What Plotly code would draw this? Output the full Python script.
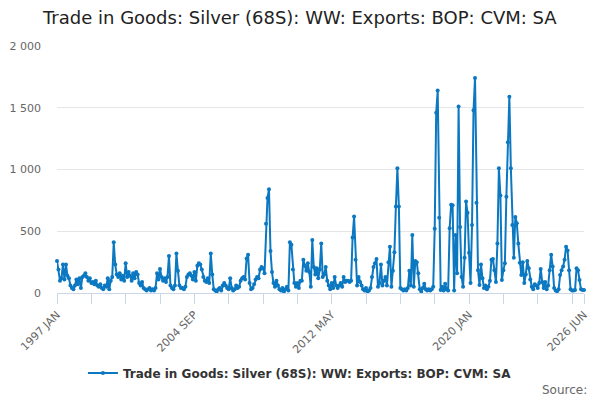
import plotly.graph_objects as go

# monthly values, 1997 JAN .. 2026 JUN
y1997_2001 = [
    260, 190, 100, 120, 230, 110, 230, 140, 120, 60, 40, 30,
    60, 110, 70, 120, 40, 130, 140, 160, 130, 100, 120, 80,
    90, 70, 100, 60, 50, 70, 40, 30, 60, 50, 120, 30,
    100, 130, 410, 230, 150, 130, 160, 110, 140, 100, 240, 130,
    170, 140, 100, 160, 120, 170, 150, 80, 60, 90, 40, 30,
]
y2002_2006 = [
    20, 30, 40, 20, 30, 20, 40, 160, 110, 195, 130, 100,
    120, 90, 130, 300, 60, 40, 30, 60, 320, 180, 60, 40,
    40, 30, 50, 130, 150, 160, 140, 110, 170, 100, 220, 240,
    230, 190, 130, 100, 90, 120, 80, 320, 150, 30, 20, 10,
    30, 40, 20, 60, 80, 60, 40, 30, 120, 40, 20, 30,
]
y2007_2011 = [
    60, 40, 50, 100, 120, 130, 110, 280, 310, 80, 30, 40,
    70, 110, 130, 120, 190, 210, 200, 160, 560, 770, 840, 340,
    170, 80, 50, 100, 60, 30, 20, 40, 10, 30, 50, 20,
    410, 390, 190, 80, 50, 80, 40, 100, 100, 270, 220, 180,
    240, 170, 50, 430, 210, 150, 200, 120, 190, 400, 130, 150,
]
y2012_2016 = [
    210, 100, 60, 30, 80, 40, 130, 60, 40, 60, 80, 50,
    130, 90, 100, 100, 90, 100, 450, 620, 270, 60, 130, 90,
    60, 30, 20, 40, 10, 20, 40, 130, 210, 240, 275, 50,
    80, 230, 60, 100, 130, 60, 250, 375, 50, 180, 330, 700,
    1010, 700, 40, 30, 20, 30, 20, 40, 180, 60, 470, 50,
]
y2017_2021 = [
    260, 250, 160, 30, 10, 40, 75, 30, 20, 30, 20, 30,
    50, 520, 1460, 1640, 610, 25, 50, 20, 75, 30, 20, 525,
    715, 710, 20, 470, 160, 1510, 535, 130, 50, 285, 740, 650,
    325, 80, 550, 1480, 1740, 730, 185, 65, 230, 120, 40, 60,
    30, 50, 100, 270, 275, 185, 90, 400, 1010, 790, 105, 185,
]
y2022_2026 = [
    240, 780, 1220, 1590, 1010, 550, 285, 615, 565, 400, 245, 145,
    250, 80, 150, 260, 200, 110, 50, 30, 70, 60, 40, 80,
    195, 90, 40, 90, 30, 60, 185, 310, 215, 40, 20, 15,
    30, 145, 185, 215, 270, 375, 345, 185, 30, 20, 20, 25,
    200, 185, 105, 30, 25, 25,
]

month_names = ["JAN", "FEB", "MAR", "APR", "MAY", "JUN",
               "JUL", "AUG", "SEP", "OCT", "NOV", "DEC"]
months = [f"{y} {m}" for y in range(1997, 2027) for m in month_names][:354]

values = y1997_2001 + y2002_2006 + y2007_2011 + y2012_2016 + y2017_2021 + y2022_2026

labelled = ["1997 JAN", "2004 SEP", "2012 MAY", "2020 JAN", "2026 JUN"]
tick_cats = months[::23] + [months[-1]]
tick_text = [m if m in labelled else "" for m in tick_cats]

name = "Trade in Goods: Silver (68S): WW: Exports: BOP: CVM: SA"
font = "DejaVu Sans"

fig = go.Figure()
fig.add_trace(go.Scatter(
    x=months, y=values, name=name, mode="lines+markers",
    line=dict(color="#0b78c1", width=2),
    marker=dict(color="#0b78c1", size=4),
    cliponaxis=False,
))

# page body has an 8px margin, so the figure is 8px smaller each way
fig.update_layout(
    width=592, height=392,
    margin=dict(l=49, r=16, t=38, b=107, autoexpand=False),
    paper_bgcolor="white", plot_bgcolor="white",
    separators=". ",
    font=dict(family=font, color="#666666"),
    title=dict(text=name, xref="container", x=0.493, xanchor="center",
               yref="container", y=0.975, yanchor="middle",
               font=dict(size=18, color="#222222", family=font)),
    showlegend=True,
    legend=dict(orientation="h", x=0.461, xanchor="center", y=-0.324, yanchor="middle",
                font=dict(size=12, color="#333333", family=font, weight="bold")),
    xaxis=dict(type="category", range=[0, 353], tickmode="array", automargin=False,
               tickvals=tick_cats, ticktext=tick_text, tickangle=-45,
               ticks="outside", ticklen=10, tickcolor="#ccd6eb",
               showline=True, linecolor="#ccd6eb", showgrid=False,
               tickfont=dict(size=11, color="#666666")),
    yaxis=dict(range=[0, 2000], tickvals=[0, 500, 1000, 1500, 2000], tickformat=",d",
               automargin=False, gridcolor="#e6e6e6", zeroline=False, showline=False,
               ticklabelstandoff=15, tickfont=dict(size=11, color="#666666")),
    annotations=[dict(text="Source:", xref="paper", yref="paper", x=1.0095, y=-0.393,
                      xanchor="right", yanchor="middle", showarrow=False,
                      font=dict(size=12, color="#666666", family=font))],
)

fig.write_html("out.html")
